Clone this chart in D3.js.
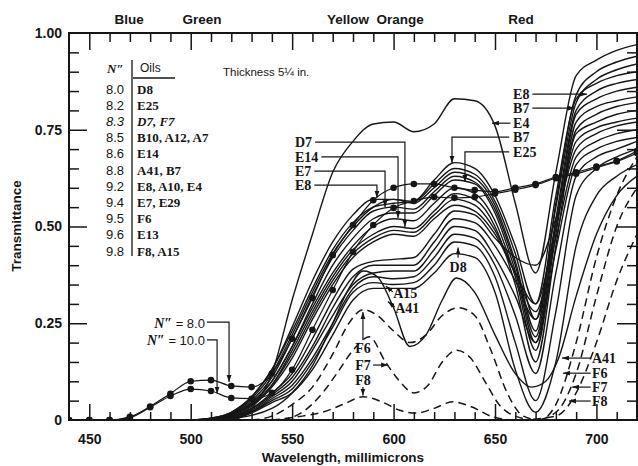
<!DOCTYPE html>
<html><head><meta charset="utf-8">
<script src="https://cdn.jsdelivr.net/npm/d3@7"></script>
<style>
body{margin:0;background:#fff;}
svg{display:block;}
</style></head><body>
<svg id="chart" width="638" height="466"></svg>
<script>
// ---------- DATA ----------
const wavelengths  = d3.range(500, 721, 10);   // 500..720
const wavelengthsN = d3.range(440, 721, 10);   // 440..720

// solid oil curves (values at wavelengths)
const oilB7  = [0,.005,.02,.06,.13,.23,.34,.44,.51,.55,.56,.565,.62,.665,.65,.58,.45,.30,.58,.84,.90,.925,.94];
const oilA10 = [0,.004,.018,.055,.12,.22,.33,.43,.50,.55,.57,.565,.61,.65,.635,.565,.43,.26,.55,.82,.88,.905,.92];
const oilE8  = [0,.005,.02,.06,.13,.24,.36,.46,.53,.57,.57,.56,.60,.64,.625,.555,.41,.23,.56,.83,.87,.89,.90];
const oilE7  = [0,.004,.017,.05,.11,.21,.32,.42,.49,.54,.55,.545,.59,.63,.615,.545,.40,.215,.52,.80,.85,.87,.88];
const oilE25 = [0,.003,.015,.045,.10,.19,.30,.40,.47,.52,.535,.535,.58,.62,.61,.535,.385,.20,.50,.79,.83,.85,.86];
const oilE14 = [0,.003,.014,.043,.10,.19,.29,.38,.45,.50,.52,.515,.56,.60,.585,.515,.37,.18,.48,.77,.81,.825,.835];
const oilD7  = [0,.003,.013,.04,.09,.18,.28,.37,.44,.48,.50,.495,.54,.585,.57,.50,.35,.15,.45,.75,.79,.81,.82];
const oilB10 = [0,.002,.012,.038,.09,.17,.27,.36,.43,.47,.49,.485,.53,.57,.555,.49,.38,.28,.50,.74,.77,.79,.80];
const oilA12 = [0,.002,.01,.035,.085,.16,.26,.35,.42,.46,.48,.475,.52,.555,.54,.48,.38,.30,.50,.72,.755,.77,.78];
const oilE13 = [0,0,.008,.03,.07,.12,.21,.31,.39,.41,.415,.42,.48,.54,.53,.47,.42,.40,.52,.70,.74,.76,.77];
const oilA7  = [0,0,.007,.028,.065,.11,.19,.29,.37,.40,.40,.40,.46,.52,.51,.45,.36,.26,.47,.68,.72,.74,.75];
const oilE29 = [0,0,.006,.025,.06,.10,.18,.27,.35,.38,.385,.385,.44,.50,.49,.42,.32,.20,.44,.66,.70,.72,.73];
const oilX   = [0,0,.005,.022,.055,.09,.16,.25,.34,.37,.365,.37,.42,.48,.47,.40,.27,.12,.38,.63,.68,.70,.72];
const oilD8  = [0,0,.004,.02,.05,.08,.15,.24,.33,.355,.35,.355,.40,.46,.45,.37,.20,.05,.28,.58,.65,.68,.70];
const oilA15 = [0,0,.003,.018,.045,.07,.13,.22,.31,.34,.34,.34,.38,.43,.42,.33,.13,.02,.15,.45,.58,.63,.66];
const oilE4  = [0,0,0,.03,.12,.31,.48,.64,.72,.765,.77,.745,.765,.83,.825,.76,.56,.38,.64,.89,.93,.955,.97];

const wlA41  = [510,530,550,560,570,578,585,592,600,608,616,624,631,640,650,660,668,675,681,690,700,710,720];
const oilA41 = [0,.012,.07,.14,.25,.34,.385,.37,.29,.19,.22,.31,.367,.33,.22,.12,.085,.10,.155,.32,.48,.58,.63];

// dashed oil curves
const wlF6  = [530,540,550,560,570,578,585,592,600,608,616,624,632,640,648,656,664,672,680,690,700,710,720];
const oilF6 = [0,.01,.04,.085,.17,.25,.285,.27,.23,.20,.22,.27,.29,.27,.18,.07,.01,0,.04,.20,.42,.58,.68];
const wlF7  = [545,555,565,572,580,588,596,603,610,617,624,631,638,645,652,660,670,680,690,700,710,720];
const oilF7 = [0,.02,.07,.12,.18,.215,.15,.10,.07,.09,.15,.18,.16,.10,.04,.01,0,.02,.12,.32,.50,.60];
const wlF8  = [540,555,565,575,585,595,603,611,620,629,638,649,660,680,690,700,710,720];
const oilF8 = [0,.01,.02,.04,.06,.045,.025,.018,.03,.047,.035,.008,0,.01,.07,.20,.36,.48];

// N" reference curves (with dots), values at wavelengthsN
const refN8  = [0,0,0,.008,.035,.068,.10,.103,.088,.085,.12,.21,.315,.426,.504,.568,.60,.61,.61,.60,.594,.59,.60,.61,.628,.64,.655,.67,.695];
const refN10 = [0,0,0,.006,.033,.062,.08,.075,.057,.055,.07,.13,.233,.336,.434,.504,.548,.566,.576,.574,.576,.585,.595,.607,.625,.636,.652,.668,.69];

// axis ticks
const xMajorTicks = [450,500,550,600,650,700];
const yMajorTicks = [0,0.25,0.5,0.75,1.0];
const bandNames = ["Blue","Green","Yellow","Orange","Red"];
const bandNm    = [469.6,505.6,577.5,603.2,662.8];

// legend table
const legendN    = ["8.0","8.2","8.3","8.5","8.6","8.8","9.2","9.4","9.5","9.6","9.8"];
const legendOils = ["D8","E25","D7, F7","B10, A12, A7","E14","A41, B7","E8, A10, E4","E7, E29","F6","E13","F8, A15"];

// annotation labels
const leftLabels   = ["D7","E14","E7","E8"];
const leftLabelVal = [0.718,0.680,0.643,0.607];
const leftLeadNm   = [605.6,602.2,595.8,591.8];
const leftTarget   = [0.499,0.522,0.550,0.574];

// ---------- CHART ----------
const ink = "#161616";
const sans = "'Liberation Sans', Arial, sans-serif";
const serif = "'Liberation Serif', 'Times New Roman', serif";
const svg = d3.select("#chart");
svg.append("rect").attr("width",638).attr("height",466).attr("fill","#fff");

const x = d3.scaleLinear().domain([440,720]).range([69,637]);
const y = d3.scaleLinear().domain([0,1]).range([420,33]);

const defs = svg.append("defs");
defs.append("clipPath").attr("id","plot").append("rect")
  .attr("x",x(440)).attr("y",y(1)).attr("width",x(720)-x(440)).attr("height",y(0)-y(1));
defs.append("marker").attr("id","arr").attr("viewBox","0 0 10 10")
  .attr("refX",10).attr("refY",5).attr("markerWidth",7).attr("markerHeight",7)
  .attr("markerUnits","userSpaceOnUse").attr("orient","auto")
  .append("path").attr("d","M0,1.5 L10,5 L0,8.5 Z").attr("fill",ink);

// ---- axes ----
function styleAxis(g){ g.select(".domain").remove(); g.selectAll(".tick line").attr("stroke",ink).attr("stroke-width",1.5); }
const minorX = d3.range(450,720,10).filter(v=>v%50!==0);
const minorY = d3.range(1,20).map(i=>i*0.05).filter(v=>Math.abs(v*4-Math.round(v*4))>1e-6);

svg.append("g").attr("transform",`translate(0,${y(0)})`).call(d3.axisBottom(x).tickValues(minorX).tickSize(-8).tickFormat("")).call(styleAxis);
const xb = svg.append("g").attr("transform",`translate(0,${y(0)})`).call(d3.axisBottom(x).tickValues(xMajorTicks).tickSize(-16).tickPadding(14).tickFormat(d3.format("d"))).call(styleAxis);
xb.selectAll("text").attr("font-family",sans).attr("font-weight","bold").attr("font-size",14).attr("fill",ink);

svg.append("g").attr("transform",`translate(0,${y(1)})`).call(d3.axisTop(x).tickValues(minorX).tickSize(-9).tickFormat("")).call(styleAxis);
svg.append("g").attr("transform",`translate(0,${y(1)})`).call(d3.axisTop(x).tickValues(xMajorTicks).tickSize(-17).tickFormat("")).call(styleAxis);

svg.append("g").attr("transform",`translate(${x(440)},0)`).call(d3.axisLeft(y).tickValues(minorY).tickSize(-10).tickFormat("")).call(styleAxis);
const yl = svg.append("g").attr("transform",`translate(${x(440)},0)`).call(d3.axisLeft(y).tickValues(yMajorTicks).tickSize(-18).tickPadding(7).tickFormat(d=>d===0?"0":d3.format(".2f")(d))).call(styleAxis);
yl.selectAll("text").attr("font-family",sans).attr("font-weight","bold").attr("font-size",14).attr("fill",ink);
yl.selectAll(".tick").filter(d=>d===0||d===1).select("line").remove();

svg.append("g").attr("transform",`translate(${x(720)},0)`).call(d3.axisRight(y).tickValues(minorY).tickSize(-10).tickFormat("")).call(styleAxis);
svg.append("g").attr("transform",`translate(${x(720)},0)`).call(d3.axisRight(y).tickValues([0.25,0.5,0.75]).tickSize(-20).tickFormat("")).call(styleAxis);

// ---- curves ----
const plot = svg.append("g").attr("clip-path","url(#plot)");
const line = d3.line().x(d=>x(d[0])).y(d=>y(d[1])).curve(d3.curveMonotoneX);

const solidSeries = [oilB7,oilA10,oilE8,oilE7,oilE25,oilE14,oilD7,oilB10,oilA12,oilE13,oilA7,oilE29,oilX,oilD8,oilA15,oilE4]
  .map(v=>({wl:wavelengths, v}));
solidSeries.push({wl:wlA41, v:oilA41});
solidSeries.forEach(s=>{
  plot.append("path").attr("d",line(d3.zip(s.wl,s.v)))
    .attr("fill","none").attr("stroke",ink).attr("stroke-width",1.4);
});

[[wlF6,oilF6],[wlF7,oilF7],[wlF8,oilF8]].forEach(([w,v])=>{
  plot.append("path").attr("d",line(d3.zip(w,v)))
    .attr("fill","none").attr("stroke",ink).attr("stroke-width",1.5).attr("stroke-dasharray","8,5");
});

[refN8,refN10].forEach(v=>{
  const pts = d3.zip(wavelengthsN,v);
  plot.append("path").attr("d",line(pts)).attr("fill","none").attr("stroke",ink).attr("stroke-width",1.2);
  plot.selectAll(null).data(pts).enter().append("circle")
    .attr("cx",d=>x(d[0])).attr("cy",d=>y(d[1])).attr("r",3.3).attr("fill",ink);
});

// ---- frame ----
svg.append("rect").attr("x",x(440)).attr("y",y(1)).attr("width",x(720)-x(440)).attr("height",y(0)-y(1))
  .attr("fill","none").attr("stroke",ink).attr("stroke-width",2);

// ---- text ----
svg.selectAll(null).data(bandNames).enter().append("text")
  .attr("x",(d,i)=>x(bandNm[i])).attr("y",24).attr("text-anchor","middle")
  .attr("font-family",sans).attr("font-weight","bold").attr("font-size",13.5).attr("fill",ink).text(d=>d);

svg.append("text").attr("x",343).attr("y",462).attr("text-anchor","middle")
  .attr("font-family",sans).attr("font-weight","bold").attr("font-size",13.5).attr("fill",ink)
  .text("Wavelength, millimicrons");
svg.append("text").attr("transform","translate(21,226) rotate(-90)").attr("text-anchor","middle")
  .attr("font-family",sans).attr("font-weight","bold").attr("font-size",13.5).attr("fill",ink)
  .text("Transmittance");

// legend table
const lg = svg.append("g").attr("fill",ink);
lg.append("text").attr("x",107).attr("y",73).attr("font-family",serif).attr("font-style","italic").attr("font-weight","bold").attr("font-size",13).text("N″");
lg.append("text").attr("x",140).attr("y",72).attr("font-family",sans).attr("font-size",12).text("Oils");
lg.append("line").attr("x1",133).attr("x2",175).attr("y1",78).attr("y2",78).attr("stroke",ink).attr("stroke-width",1.5);
lg.append("line").attr("x1",132).attr("x2",132).attr("y1",60).attr("y2",256).attr("stroke",ink).attr("stroke-width",1.3);
legendN.forEach((n,i)=>{
  const cy = 89 + i*16.2;
  lg.append("text").attr("x",124).attr("y",cy+4.5).attr("text-anchor","end")
    .attr("font-family",sans).attr("font-size",13).attr("font-style",i===2?"italic":"normal").text(n);
  lg.append("text").attr("x",137).attr("y",cy+4.5)
    .attr("font-family",serif).attr("font-weight","bold").attr("font-size",13).attr("font-style",i===2?"italic":"normal").text(legendOils[i]);
});
svg.append("text").attr("x",223).attr("y",76).attr("font-family",sans).attr("font-size",11.5).attr("fill",ink).text("Thickness 5¼ in.");

// ---- annotations ----
const ann = svg.append("g");
function leader(pts){
  ann.append("path").attr("d",d3.line()(pts)).attr("fill","none").attr("stroke",ink)
    .attr("stroke-width",1.2).attr("marker-end","url(#arr)");
}
function label(txt,px,py,anchor){
  return ann.append("text").attr("x",px).attr("y",py).attr("dy","0.35em").attr("text-anchor",anchor||"start")
    .attr("font-family",serif).attr("font-weight","bold").attr("font-size",14).attr("fill",ink).text(txt);
}
leftLabels.forEach((t,i)=>{
  const tx = label(t,x(551.4),y(leftLabelVal[i]));
  const b = tx.node().getBBox();
  leader([[b.x+b.width+3,y(leftLabelVal[i])],[x(leftLeadNm[i]),y(leftLabelVal[i])],[x(leftLeadNm[i]),y(leftTarget[i])]]);
});
// right upper labels
[["E8",0.842,695.3],["B7",0.806,689.4]].forEach(([t,v,nm])=>{
  const b = label(t,x(658.9),y(v)).node().getBBox();
  leader([[b.x+b.width+3,y(v)],[x(nm),y(v)]]);
});
label("E4",x(658.9),y(0.767));
leader([[x(657.6),y(0.767)],[x(648.5),y(0.767)]]);
[["B7",0.731,628.8,0.664],["E25",0.693,635.2,0.615]].forEach(([t,v,nm,tv])=>{
  label(t,x(658.9),y(v));
  leader([[x(657),y(v)],[x(nm),y(v)],[x(nm),y(tv)]]);
});
// lower labels
label("D8",x(631.8),y(0.395),"middle");
leader([[x(631.8),y(0.419)],[x(631.8),y(0.446)]]);
label("A15",x(599.8),y(0.328));
leader([[x(599.6),y(0.331)],[x(596.2),y(0.346)]]);
label("A41",x(600.8),y(0.289));
leader([[x(600.6),y(0.292)],[x(597.2),y(0.306)]]);
label("F6",x(584.9),y(0.186),"middle");
leader([[x(584.9),y(0.206)],[x(584.9),y(0.279)]]);
label("F7",x(584.9),y(0.142),"middle");
leader([[x(589.9),y(0.142)],[x(597.3),y(0.142)]]);
label("F8",x(584.9),y(0.104),"middle");
leader([[x(584.9),y(0.085)],[x(584.9),y(0.063)]]);
[["A41",0.160,683.0],["F6",0.121,683.5],["F7",0.085,688.0],["F8",0.049,686.5]].forEach(([t,v,nm])=>{
  label(t,x(697.8),y(v));
  leader([[x(697.2),y(v)],[x(nm),y(v)]]);
});
// N" labels
[["8.0",0.253,518.9,0.098],["10.0",0.207,513.0,0.068]].forEach(([n,v,nm,tv])=>{
  const t = ann.append("text").attr("x",x(507)).attr("y",y(v)).attr("dy","0.35em").attr("text-anchor","end").attr("fill",ink);
  t.append("tspan").attr("font-family",serif).attr("font-style","italic").attr("font-weight","bold").attr("font-size",14).text("N″");
  t.append("tspan").attr("font-family",sans).attr("font-size",13).text(" = "+n);
  leader([[x(508),y(v)],[x(nm),y(v)],[x(nm),y(tv)]]);
});
</script>
</body></html>
